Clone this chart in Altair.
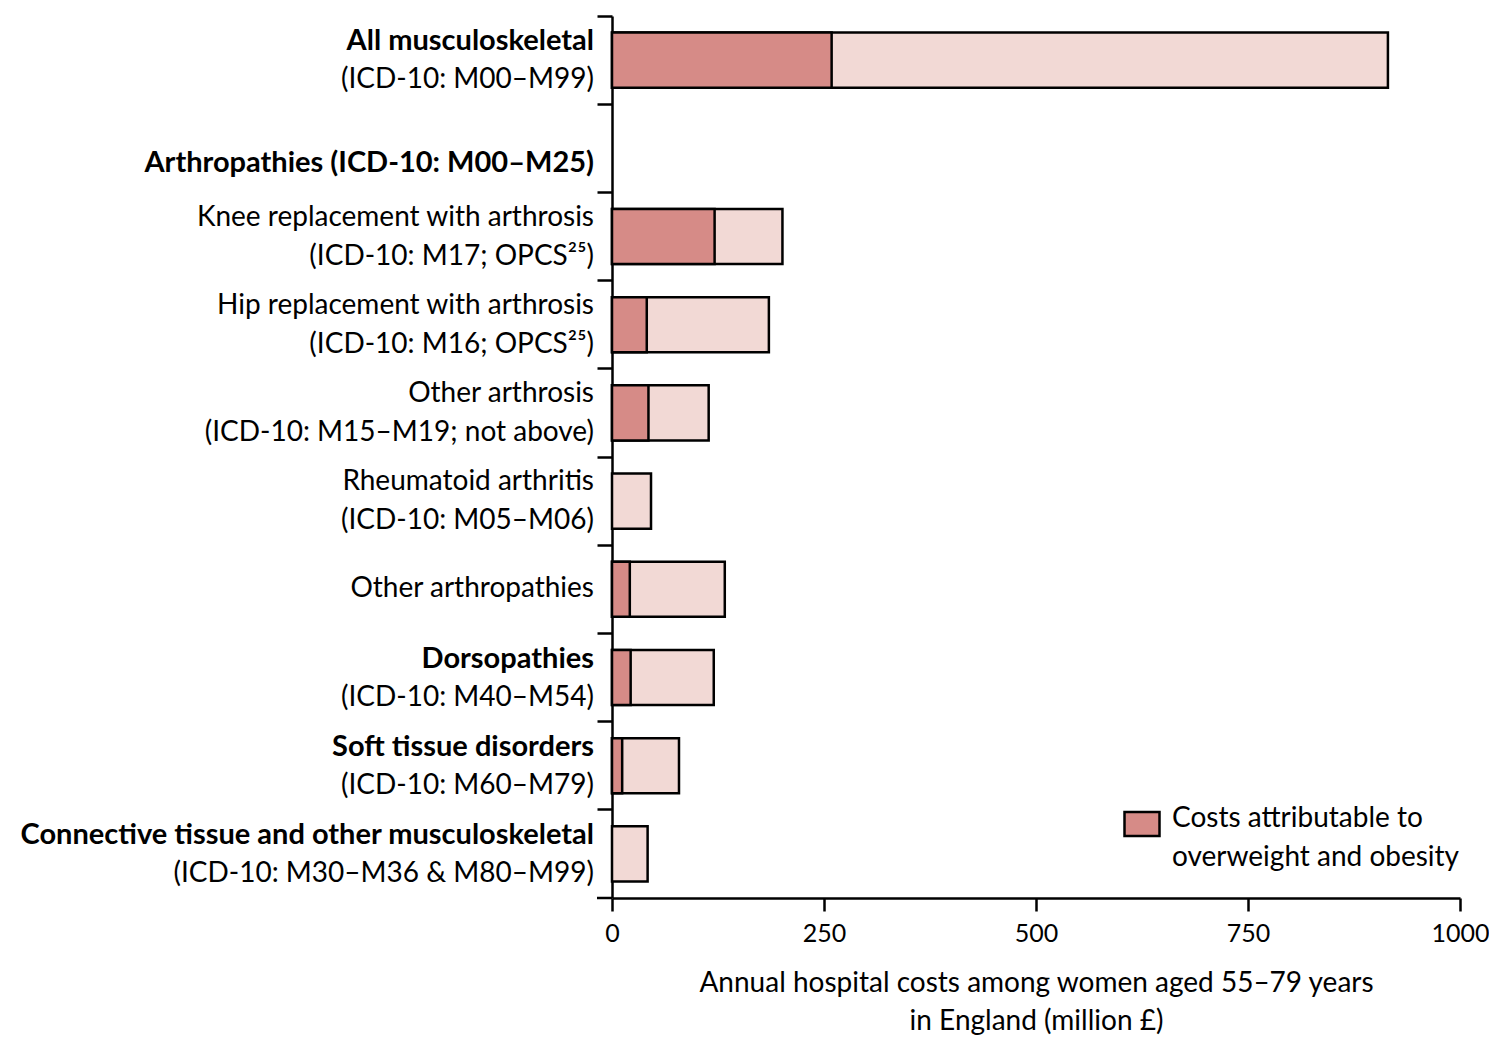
import altair as alt
import pandas as pd

FONT = "Lato"
DARK = "#d68b87"
LIGHT = "#f2d9d5"

# ---- data -------------------------------------------------------------
rows = [
    "All musculoskeletal",
    "Arthropathies",
    "Knee replacement",
    "Hip replacement",
    "Other arthrosis",
    "Rheumatoid arthritis",
    "Other arthropathies",
    "Dorsopathies",
    "Soft tissue disorders",
    "Connective tissue",
]
first_lines = [
    "All musculoskeletal",
    "Arthropathies (ICD-10: M00–M25)",
    "Knee replacement with arthrosis",
    "Hip replacement with arthrosis",
    "Other arthrosis",
    "Rheumatoid arthritis",
    "Other arthropathies",
    "Dorsopathies",
    "Soft tissue disorders",
    "Connective tissue and other musculoskeletal",
]
first_bold = [True, True, False, False, False, False, False, True, True, True]
second_lines = [
    "(ICD-10: M00–M99)",
    "",
    "(ICD-10: M17; OPCS²⁵)",
    "(ICD-10: M16; OPCS²⁵)",
    "(ICD-10: M15–M19; not above)",
    "(ICD-10: M05–M06)",
    "",
    "(ICD-10: M40–M54)",
    "(ICD-10: M60–M79)",
    "(ICD-10: M30–M36 & M80–M99)",
]
total_cost = [915, None, 201, 185, 114, 46, 133, 120, 79, 42]
attributable_cost = [259, None, 121, 41, 43, 0, 21, 22, 12, 0]
x_ticks = [0, 250, 500, 750, 1000]
legend_key = "Costs attributable to overweight and obesity"
legend_lines = ["Costs attributable to", "overweight and obesity"]
x_title = ["Annual hospital costs among women aged 55–79 years", "in England (million £)"]

W, H = 848, 882
HALF_STEP = H / len(rows) / 2

# ---- tables -----------------------------------------------------------
bars = pd.DataFrame({"row": rows, "total": total_cost, "attr": attributable_cost})

line_records = []
for i, r in enumerate(rows):
    if second_lines[i]:
        line_records.append({"row": r, "text": first_lines[i], "bold": first_bold[i], "dy": HALF_STEP - 19})
        line_records.append({"row": r, "text": second_lines[i], "bold": False, "dy": HALF_STEP + 20})
    else:
        dy = 15 if first_bold[i] else 0
        line_records.append({"row": r, "text": first_lines[i], "bold": first_bold[i], "dy": HALF_STEP + dy})
lines = pd.DataFrame(line_records)

yscale = alt.Scale(domain=rows, paddingInner=0, paddingOuter=0)
y_axis = alt.Axis(
    labels=False, title=None, ticks=True, tickSize=15, tickWidth=2.5,
    tickColor="black", domainColor="black", domainWidth=2.5, bandPosition=0,
    grid=False,
)
x_axis = alt.Axis(
    values=x_ticks, format="d", labelFlush=False, tickSize=13, tickWidth=2.5,
    tickColor="black", domainColor="black", domainWidth=2.5, grid=False,
    labelFont=FONT, labelFontSize=25, labelColor="black", labelPadding=10,
    title=x_title, titleFont=FONT, titleFontSize=28, titleFontWeight="normal",
    titleColor="black", titleLineHeight=38, titlePadding=23,
)

light = alt.Chart(bars).transform_filter("isValid(datum.total)").mark_bar(
    height={"band": 0.625}, fill=LIGHT, stroke="black", strokeWidth=2.5
).encode(
    x=alt.X("total:Q", scale=alt.Scale(domain=[0, 1000], nice=False), axis=x_axis),
    y=alt.Y("row:N", sort=rows, scale=yscale, axis=y_axis),
)

dark = alt.Chart(bars).transform_filter("datum.attr > 0").transform_calculate(
    series=f"'{legend_key}'"
).mark_bar(
    height={"band": 0.625}, stroke="black", strokeWidth=2.5, opacity=1
).encode(
    x=alt.X("attr:Q"),
    y=alt.Y("row:N", sort=rows, scale=yscale),
    color=alt.Color(
        "series:N",
        scale=alt.Scale(domain=[legend_key], range=[DARK]),
        legend=alt.Legend(
            title=legend_lines, titleOrient="right", titleAnchor="start",
            titleBaseline="top", titleFont=FONT, titleFontSize=28,
            titleFontWeight="normal", titleColor="black", titleLineHeight=39,
            titlePadding=7, titleLimit=0,
            orient="none", legendX=511, legendY=789, padding=0,
            symbolType="M-1,-0.686L1,-0.686L1,0.686L-1,0.686Z", symbolSize=1225,
            symbolStrokeColor="black", symbolStrokeWidth=2.5, symbolOpacity=1,
            labelExpr="''", labelOffset=0, labelFontSize=1,
        ),
    ),
)

bold_text = alt.Chart(lines).transform_filter("datum.bold").mark_text(
    align="right", baseline="middle", font=FONT, fontSize=29, color="black",
    fontWeight="bold",
).encode(
    x=alt.value(-18),
    y=alt.Y("row:N", sort=rows, scale=yscale),
    yOffset=alt.YOffset("dy:Q", scale=None),
    text="text:N",
)
normal_text = alt.Chart(lines).transform_filter("!datum.bold").mark_text(
    align="right", baseline="middle", font=FONT, fontSize=28, color="black",
    fontWeight="normal",
).encode(
    x=alt.value(-18),
    y=alt.Y("row:N", sort=rows, scale=yscale),
    yOffset=alt.YOffset("dy:Q", scale=None),
    text="text:N",
)

bottom_tick = alt.Chart(pd.DataFrame({"k": [0]})).mark_rule(
    color="black", strokeWidth=2.5
).encode(x=alt.value(-15), x2=alt.value(0), y=alt.value(H))

chart = alt.layer(light, dark, bold_text, normal_text, bottom_tick).properties(
    width=W, height=H,
    padding={"left": 604, "top": 8, "right": 29, "bottom": 139},
    autosize=alt.AutoSizeParams(type="none"),
).configure_view(stroke=None)

chart.save("out.html", embed_options={"renderer": "svg", "actions": False})
